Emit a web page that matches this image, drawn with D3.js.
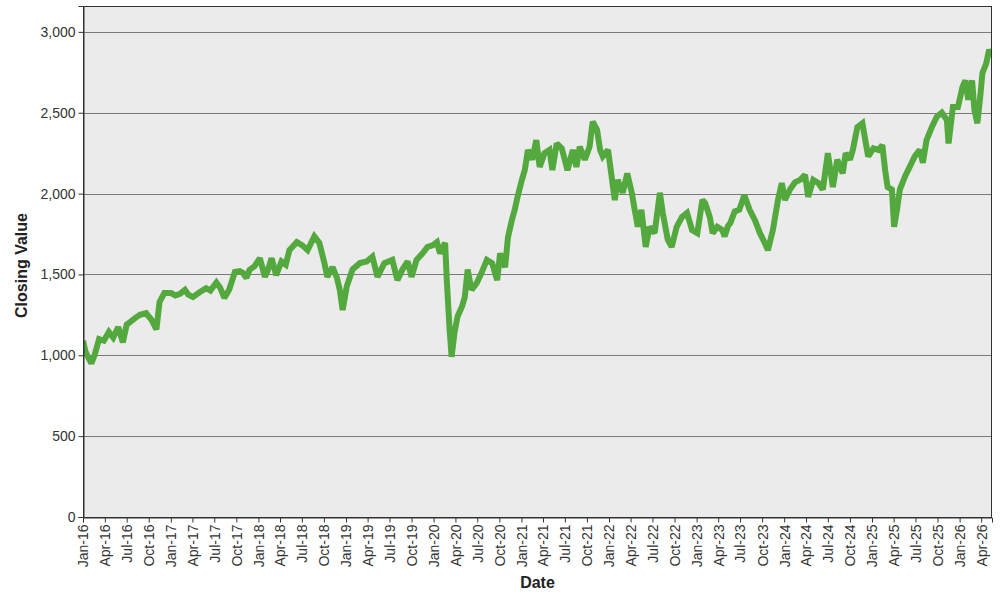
<!DOCTYPE html>
<html>
<head>
<meta charset="utf-8">
<script src="https://cdn.jsdelivr.net/npm/d3@7"></script>
<style>
  html, body { margin: 0; padding: 0; background: #ffffff; }
  svg { display: block; font-family: "Liberation Sans", Arial, sans-serif; }
</style>
</head>
<body>
<svg id="chart" width="1000" height="600"></svg>
<script>
const dates = [
"2016-01-01","2016-01-12","2016-01-22","2016-02-05","2016-02-18","2016-03-08","2016-03-28","2016-04-18","2016-05-06","2016-05-27",
"2016-06-15","2016-07-01","2016-07-15","2016-08-05","2016-08-25","2016-09-20","2016-10-12","2016-11-02","2016-11-15","2016-12-05",
"2017-01-02","2017-01-20","2017-02-08","2017-03-01","2017-03-15","2017-04-03","2017-05-01","2017-05-28","2017-06-15","2017-07-10",
"2017-07-25","2017-08-12","2017-09-01","2017-09-25","2017-10-15","2017-10-28","2017-11-12","2017-11-25","2017-12-15","2018-01-07",
"2018-01-28","2018-02-10","2018-02-25","2018-03-16","2018-04-07","2018-04-25","2018-05-10","2018-06-10","2018-07-03","2018-07-25",
"2018-08-22","2018-09-12","2018-10-03","2018-10-15","2018-11-06","2018-11-24","2018-12-06","2018-12-18","2019-01-04","2019-01-28",
"2019-02-28","2019-03-28","2019-04-21","2019-05-12","2019-06-10","2019-07-13","2019-08-03","2019-08-24","2019-09-15","2019-10-01",
"2019-10-22","2019-11-16","2019-12-07","2019-12-28","2020-01-15","2020-01-28","2020-02-18","2020-02-25","2020-03-07","2020-03-16",
"2020-03-28","2020-04-10","2020-04-28","2020-05-10","2020-05-22","2020-06-07","2020-06-28","2020-07-19","2020-08-10","2020-09-01",
"2020-09-22","2020-10-04","2020-10-25","2020-11-06","2020-11-22","2020-12-04","2020-12-16","2021-01-03","2021-01-15","2021-01-28",
"2021-02-15","2021-03-04","2021-03-18","2021-04-07","2021-04-28","2021-05-10","2021-05-28","2021-06-18","2021-07-12","2021-08-03",
"2021-08-18","2021-09-01","2021-09-22","2021-10-12","2021-10-25","2021-11-12","2021-11-25","2021-12-06","2021-12-28","2022-01-12",
"2022-01-25","2022-02-06","2022-02-27","2022-03-18","2022-04-06","2022-04-18","2022-05-01","2022-05-16","2022-06-03","2022-06-19",
"2022-07-10","2022-08-01","2022-08-13","2022-09-03","2022-09-19","2022-10-10","2022-11-01","2022-11-22","2022-12-13","2023-01-04",
"2023-01-25","2023-02-06","2023-02-25","2023-03-09","2023-03-28","2023-04-18","2023-04-28","2023-05-12","2023-05-22","2023-06-09",
"2023-06-28","2023-07-19","2023-08-10","2023-09-01","2023-09-22","2023-10-12","2023-10-25","2023-11-15","2023-12-06","2023-12-22",
"2024-01-04","2024-01-25","2024-02-15","2024-03-07","2024-03-28","2024-04-10","2024-05-01","2024-05-22","2024-06-10","2024-07-01",
"2024-07-22","2024-08-09","2024-09-01","2024-09-13","2024-10-01","2024-10-13","2024-11-01","2024-11-22","2024-12-04","2024-12-16",
"2025-01-07","2025-01-28","2025-02-13","2025-02-25","2025-03-07","2025-03-25","2025-04-03","2025-04-15","2025-04-27","2025-05-18",
"2025-06-07","2025-06-28","2025-07-19","2025-08-01","2025-08-16","2025-09-07","2025-09-28","2025-10-19","2025-11-09","2025-11-16",
"2025-12-04","2025-12-25","2026-01-13","2026-01-25","2026-02-06","2026-02-22","2026-03-04","2026-03-16","2026-03-28","2026-04-06",
"2026-04-22","2026-05-04","2026-05-16"
];
const closingValues = [
1090,1020,990,950,1000,1100,1090,1145,1110,1175,
1080,1190,1205,1230,1250,1260,1220,1160,1330,1385,
1385,1370,1380,1405,1375,1360,1390,1415,1400,1450,
1420,1355,1405,1515,1520,1510,1478,1528,1550,1600,
1485,1530,1600,1495,1580,1560,1650,1700,1680,1650,
1735,1695,1570,1485,1545,1480,1405,1280,1425,1530,
1570,1580,1610,1485,1570,1590,1465,1530,1580,1485,
1590,1630,1670,1680,1700,1630,1695,1465,1175,990,
1140,1240,1300,1360,1530,1405,1445,1510,1590,1570,
1465,1630,1545,1730,1835,1900,1980,2085,2145,2270,
2210,2330,2165,2250,2270,2145,2310,2280,2145,2270,
2165,2290,2210,2290,2445,2395,2270,2230,2270,2105,
1960,2085,2005,2125,2005,1900,1795,1900,1670,1795,
1755,2005,1880,1715,1670,1795,1855,1880,1775,1755,
1960,1940,1855,1755,1795,1775,1735,1800,1820,1890,
1900,1990,1900,1835,1755,1695,1650,1775,1960,2065,
1960,2025,2070,2085,2115,1980,2085,2065,2025,2250,
2040,2210,2125,2250,2210,2270,2410,2435,2330,2230,
2280,2270,2300,2140,2040,2025,1795,1900,2025,2105,
2165,2230,2270,2190,2330,2410,2475,2500,2455,2310,
2535,2535,2660,2700,2580,2700,2515,2435,2600,2745,
2805,2890,2845
];
const yTicks = [0, 500, 1000, 1500, 2000, 2500, 3000];
const yMax = 3160;
const xTickStart = "2016-01-01";
const xTickEnd = "2026-04-01";

const parse = d3.timeParse("%Y-%m-%d");
const data = dates.map((d, i) => ({ date: parse(d), value: closingValues[i] }));

const svg = d3.select("#chart");
const margin = { left: 83, right: 8, top: 6, bottom: 83 };
const W = 1000, H = 600;
const iw = W - margin.left - margin.right;
const ih = H - margin.top - margin.bottom;

const x = d3.scaleTime()
  .domain(d3.extent(data, d => d.date))
  .range([margin.left, margin.left + iw]);
const y = d3.scaleLinear()
  .domain([0, yMax])
  .range([margin.top + ih, margin.top]);

svg.append("rect")
  .attr("x", margin.left).attr("y", margin.top)
  .attr("width", iw).attr("height", ih)
  .attr("fill", "#ebebeb");

svg.append("g")
  .selectAll("line")
  .data(yTicks.filter(t => t > 0))
  .join("line")
  .attr("x1", margin.left).attr("x2", margin.left + iw)
  .attr("y1", d => Math.round(y(d)) + 0.5).attr("y2", d => Math.round(y(d)) + 0.5)
  .attr("stroke", "#7a7a7a").attr("stroke-width", 1);

svg.append("defs").append("clipPath").attr("id", "clip")
  .append("rect").attr("x", margin.left).attr("y", margin.top).attr("width", iw).attr("height", ih);

const line = d3.line()
  .x(d => x(d.date))
  .y(d => y(d.value));
svg.append("path")
  .datum(data)
  .attr("clip-path", "url(#clip)")
  .attr("d", line)
  .attr("fill", "none")
  .attr("stroke", "#54a93e")
  .attr("stroke-width", 6)
  .attr("stroke-linejoin", "miter")
  .attr("stroke-miterlimit", 2);

svg.append("rect")
  .attr("x", margin.left + 0.5).attr("y", margin.top + 0.5)
  .attr("width", iw - 1).attr("height", ih)
  .attr("fill", "none").attr("stroke", "#333").attr("stroke-width", 1);

const yAxis = d3.axisLeft(y)
  .tickValues(yTicks)
  .tickSize(5)
  .tickPadding(3)
  .tickFormat(d3.format(","));
const gy = svg.append("g")
  .attr("transform", `translate(${margin.left + 0.5},0)`)
  .call(yAxis);
gy.select(".domain").attr("stroke", "#333");
gy.selectAll(".tick line").attr("stroke", "#333");
gy.selectAll("text").attr("font-size", 14).attr("fill", "#333")
  .attr("font-family", "Liberation Sans, Arial, sans-serif");

const xTicks = d3.timeMonth.every(3).range(parse(xTickStart), d3.timeDay.offset(parse(xTickEnd), 1));
const xAxis = d3.axisBottom(x)
  .tickValues(xTicks)
  .tickSize(5)
  .tickPadding(3)
  .tickFormat(d3.timeFormat("%b-%y"));
const gx = svg.append("g")
  .attr("transform", `translate(0,${margin.top + ih + 0.5})`)
  .call(xAxis);
gx.select(".domain").attr("stroke", "#333");
gx.selectAll(".tick line").attr("stroke", "#333");
gx.selectAll("text")
  .attr("font-size", 14).attr("fill", "#333")
  .attr("font-family", "Liberation Sans, Arial, sans-serif")
  .attr("transform", "rotate(-90)")
  .attr("text-anchor", "end")
  .attr("dy", "0.35em")
  .attr("x", -7)
  .attr("y", 0);

svg.append("text")
  .attr("x", margin.left + iw / 2)
  .attr("y", 588)
  .attr("text-anchor", "middle")
  .attr("font-size", 16).attr("font-weight", "bold").attr("fill", "#222")
  .text("Date");
svg.append("text")
  .attr("transform", `translate(27,${margin.top + ih / 2 + 4}) rotate(-90)`)
  .attr("text-anchor", "middle")
  .attr("font-size", 16).attr("font-weight", "bold").attr("fill", "#222")
  .text("Closing Value");
</script>
</body>
</html>
